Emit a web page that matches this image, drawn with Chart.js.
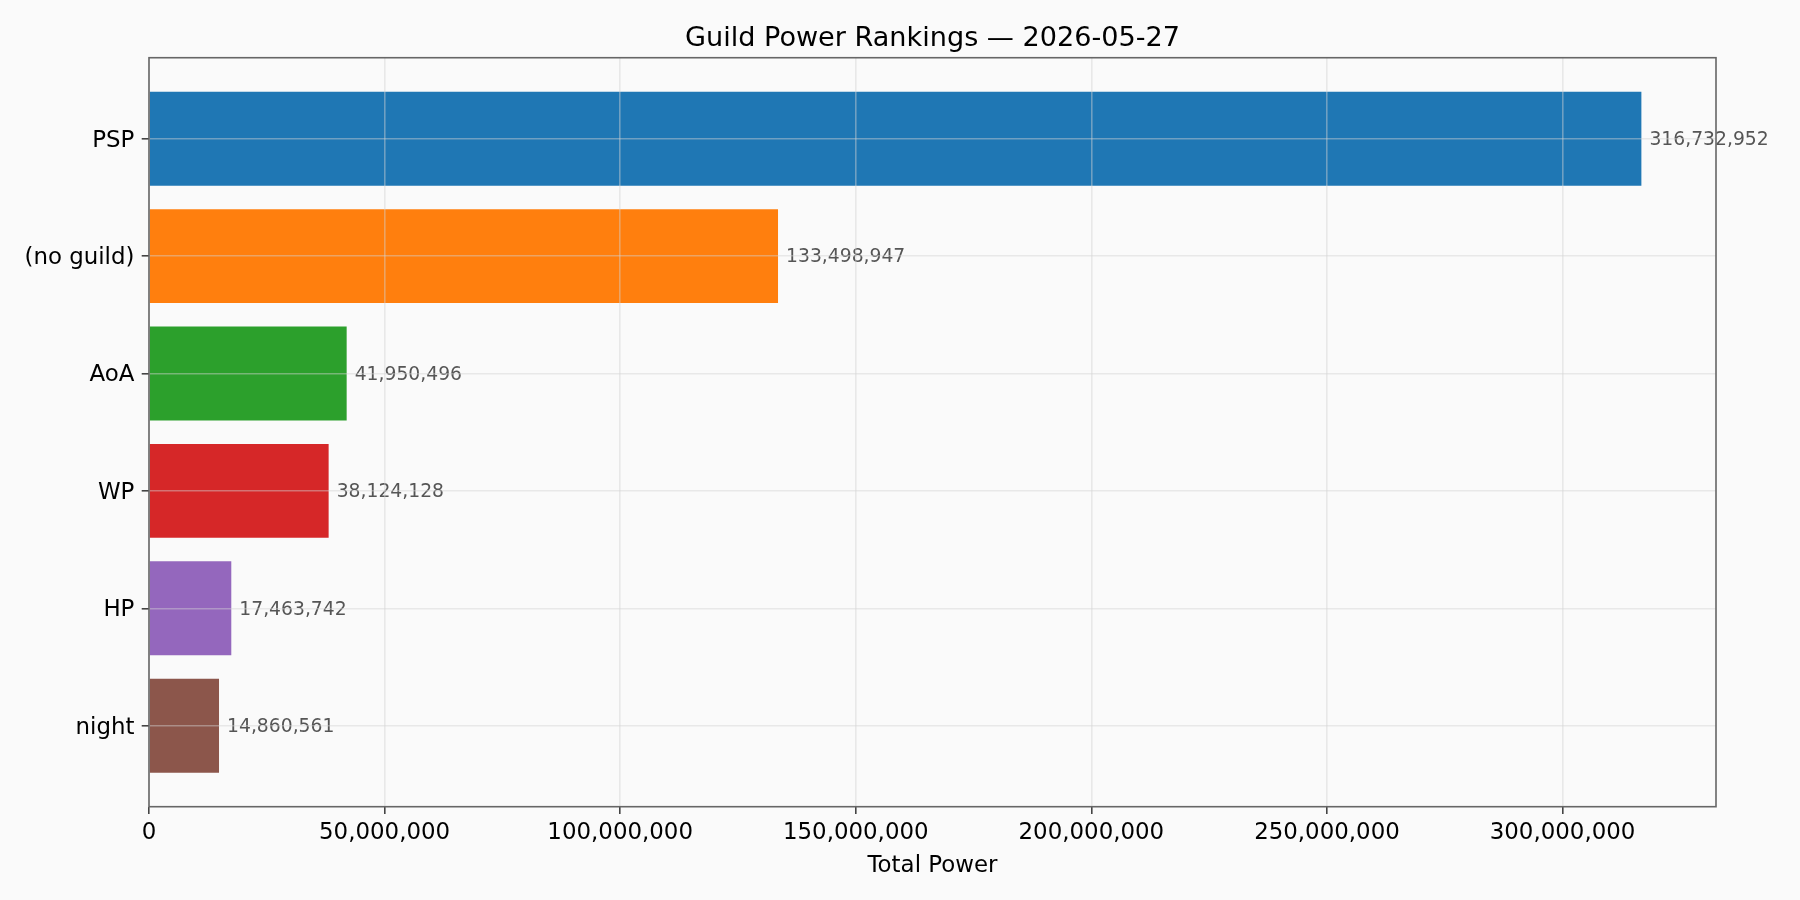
<!DOCTYPE html>
<html>
<head>
<meta charset="utf-8">
<script src="https://cdn.jsdelivr.net/npm/chart.js@4/dist/chart.umd.min.js"></script>
<style>
  html, body { margin: 0; padding: 0; background: #fafafa; }
  canvas { display: block; }
</style>
</head>
<body>
<canvas id="c" width="1800" height="900"></canvas>
<script>
// ---- data ----
const guilds = ["PSP", "(no guild)", "AoA", "WP", "HP", "night"];
const totalPower = [316732952, 133498947, 41950496, 38124128, 17463742, 14860561];
const barColors = ["#1f77b4", "#ff7f0e", "#2ca02c", "#d62728", "#9467bd", "#8c564b"];
const xTickValues = [0, 50000000, 100000000, 150000000, 200000000, 250000000, 300000000];
const chartTitle = "Guild Power Rankings \u2014 2026-05-27";
const xAxisTitle = "Total Power";

const FONT = "'DejaVu Sans', sans-serif";
const fmt = v => Number(v).toLocaleString('en-US');

const points = guilds.map((g, i) => ({ x: totalPower[i], y: i }));
const xMax = Math.max(...totalPower) * 1.05;
const yMin = -0.4 - 0.05 * (guilds.length - 1 + 0.8);
const yMax = guilds.length - 1 + 0.4 + 0.05 * (guilds.length - 1 + 0.8);

const GRID = 'rgba(210,210,210,0.45)';

const valueLabels = {
  id: 'valueLabels',
  beforeDraw(chart) {
    const ys = chart.scales.y;
    if (!ys._shiftWrapped) {
      const orig = ys.drawLabels.bind(ys);
      ys.drawLabels = function (area) {
        const ctx = this.ctx;
        ctx.save();
        ctx.translate(0, 2);
        orig(area);
        ctx.restore();
      };
      ys._shiftWrapped = true;
    }
  },
  afterDatasetsDraw(chart) {
    const ctx = chart.ctx;
    const meta = chart.getDatasetMeta(0);
    ctx.save();
    ctx.font = "18.75px " + FONT;
    ctx.fillStyle = "#555555";
    ctx.textAlign = "left";
    ctx.textBaseline = "middle";
    meta.data.forEach((bar, i) => {
      ctx.fillText(fmt(totalPower[i]), bar.x + 8, bar.y + 1.5);
    });
    ctx.restore();
  },
  afterDraw(chart) {
    const a = chart.chartArea;
    const ctx = chart.ctx;
    ctx.save();
    ctx.strokeStyle = "#666666";
    ctx.lineWidth = 1.6;
    ctx.strokeRect(a.left, a.top, a.right - a.left, a.bottom - a.top);
    ctx.restore();
  }
};

new Chart(document.getElementById('c'), {
  type: 'bar',
  data: {
    datasets: [{
      data: points,
      backgroundColor: barColors,
      borderWidth: 0,
      categoryPercentage: 1.0,
      barPercentage: 0.8
    }]
  },
  options: {
    indexAxis: 'y',
    responsive: false,
    animation: false,
    devicePixelRatio: 1,
    layout: { padding: { left: 0, right: 84, top: 0, bottom: 0 } },
    plugins: {
      legend: { display: false },
      tooltip: { enabled: false },
      title: {
        display: true,
        text: chartTitle,
        fullSize: false,
        color: '#000000',
        font: { family: FONT, size: 27.1, weight: 'normal', lineHeight: 1.2 },
        padding: { top: 22.3, bottom: 2.9 }
      }
    },
    scales: {
      x: {
        type: 'linear',
        position: 'bottom',
        min: 0,
        max: xMax,
        afterBuildTicks: s => { s.ticks = xTickValues.map(v => ({ value: v })); },
        afterFit: s => { s.height = 93.3; },
        border: { display: false },
        grid: {
          z: 1,
          color: GRID,
          lineWidth: 1.6,
          drawTicks: true,
          tickLength: 7.3,
          tickColor: '#444444',
          tickWidth: 1.6
        },
        ticks: {
          color: '#000000',
          font: { family: FONT, size: 22.9 },
          padding: 5,
          maxRotation: 0,
          autoSkip: false,
          callback: v => fmt(v)
        },
        title: {
          display: true,
          text: xAxisTitle,
          color: '#000000',
          font: { family: FONT, size: 22.9, lineHeight: 1.2 },
          padding: { top: 0, bottom: 20.5 }
        }
      },
      y: {
        type: 'linear',
        position: 'left',
        reverse: true,
        offset: false,
        min: yMin,
        max: yMax,
        afterBuildTicks: s => { s.ticks = guilds.map((g, i) => ({ value: i })); },
        afterFit: s => { s.width = 149; },
        border: { display: false },
        grid: {
          z: 1,
          offset: false,
          color: GRID,
          lineWidth: 1.6,
          drawTicks: true,
          tickLength: 7.3,
          tickColor: '#444444',
          tickWidth: 1.6
        },
        ticks: {
          color: '#000000',
          font: { family: FONT, size: 22.9 },
          padding: 7.3,
          autoSkip: false,
          callback: v => guilds[v]
        }
      }
    }
  },
  plugins: [valueLabels]
});
</script>
</body>
</html>
